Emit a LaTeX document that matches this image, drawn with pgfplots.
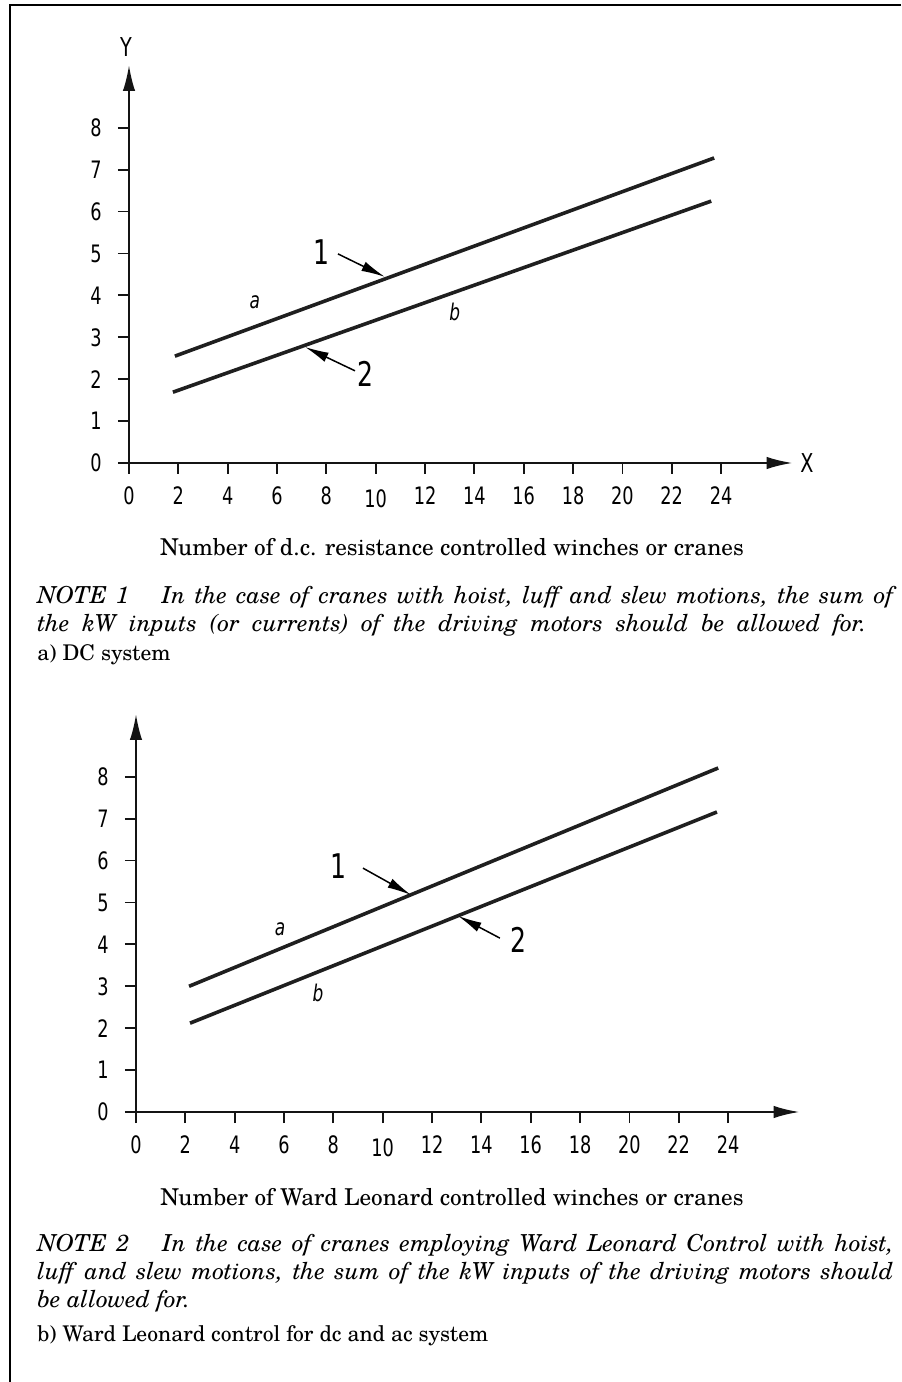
\documentclass[border=0pt]{standalone}
\usepackage{pgfplots}
\pgfplotsset{compat=1.18}
\usetikzlibrary{arrows.meta}
\usepackage{fontspec}
\setmainfont{TeX Gyre Schola}
\newfontfamily\iso[FakeStretch=0.82]{DejaVu Sans Condensed}
\pgfplotsset{
  isoaxis/.style={
    anchor=south west,
    axis lines=left,
    x=12.335pt, y=20.95pt,
    xmin=0, xmax=26.9, ymin=0, ymax=9.5,
    clip=false,
    axis line style={line width=1.1pt, black!92, -{Latex[length=13pt,width=6.2pt]}},
    xtick={0,2,...,24}, ytick={0,1,...,8},
    xticklabels={0,2,4,6,8,\raisebox{-1.5pt}[\height][0pt]{10},12,14,16,18,20,22,24},
    tick align=outside,
    major tick length=5.5pt,
    tick style={line width=0.9pt, black!92},
    /pgf/number format/assume math mode=true,
    ticklabel style={font=\iso\fontsize{12}{14}\selectfont, inner sep=0pt},
    xticklabel style={yshift=-6.5pt, text height=8.75pt, text depth=0pt},
    yticklabel style={xshift=-8pt},
  },
  dline/.style={line width=1.8pt, draw=black!88},
}
\tikzset{
  annot/.style={line width=0.75pt, -{Latex[length=12pt,width=5pt]}},
  big/.style={font=\iso\fontsize{17}{19}\selectfont, inner sep=0pt},
  itl/.style={font=\iso\itshape\fontsize{11.5}{13}\selectfont, inner sep=0pt},
  lab/.style={font=\iso\fontsize{13}{15}\selectfont, inner sep=0pt},
  captxt/.style={font=\fontsize{11.6}{14}\selectfont, inner sep=0pt, anchor=base},
  notetxt/.style={font=\fontsize{11.7}{14}\selectfont\itshape, inner sep=0pt, anchor=base west},
  subtxt/.style={font=\fontsize{10.8}{13}\selectfont, inner sep=0pt, anchor=base west},
}
\begin{document}
\begin{tikzpicture}[x=0.5pt,y=0.5pt]
\useasboundingbox (0,0) rectangle (901,1382);
\draw[line width=1pt] (901,1377) -- (9.6,1377);
\draw[line width=0.75pt] (10,1377.5) -- (10,0);

% ---- a) DC system
\begin{axis}[isoaxis, at={(64.5pt,459.5pt)}]
\addplot[dline] coordinates {(1.86,2.55) (23.72,7.28)};
\addplot[dline] coordinates {(1.78,1.69) (23.60,6.25)};
\draw[annot] (axis cs:8.47,4.99) -- (axis cs:10.38,4.44);
\draw[annot] (axis cs:9.16,2.20) -- (axis cs:7.13,2.77);
\node[big] at (axis cs:7.82,5.04) {1};
\node[big] at (axis cs:9.57,2.12) {2};
\node[itl] at (axis cs:5.1,3.84) {a};
\node[itl] at (axis cs:13.2,3.6) {b};
\node[lab] at (axis cs:-0.12,9.93) {Y};
\node[lab] at (axis cs:27.48,0) {X};
\end{axis}

\node[captxt] at (452,826) {Number of d.c. resistance controlled winches or cranes};
\node[notetxt] at (37,778) {\makebox[428pt][s]{NOTE 1\hspace{1.4em}In the case of cranes with hoist, luff and slew motions, the sum of}};
\node[notetxt] at (37,750) {\makebox[414.5pt][s]{the kW inputs (or currents) of the driving motors should be allowed for.}};
\node[subtxt] at (37,721) {a) DC system};

% ---- b) Ward Leonard
\begin{axis}[isoaxis, at={(68pt,135pt)}]
\addplot[dline] coordinates {(2.15,3.00) (23.60,8.21)};
\addplot[dline] coordinates {(2.19,2.12) (23.55,7.16)};
\draw[annot] (axis cs:9.2,5.82) -- (axis cs:11.15,5.18);
\draw[annot] (axis cs:14.75,4.15) -- (axis cs:13.05,4.68);
\node[big] at (axis cs:8.19,5.87) {1};
\node[big] at (axis cs:15.5,4.1) {2};
\node[itl] at (axis cs:5.84,4.37) {a};
\node[itl] at (axis cs:7.38,2.84) {b};
\end{axis}

\node[captxt] at (452,176) {Number of Ward Leonard controlled winches or cranes};
\node[notetxt] at (37,130) {\makebox[428pt][s]{NOTE 2\hspace{1.4em}In the case of cranes employing Ward Leonard Control with hoist,}};
\node[notetxt] at (37,102) {\makebox[428pt][s]{luff and slew motions, the sum of the kW inputs of the driving motors should}};
\node[notetxt] at (37,74) {be allowed for.};
\node[subtxt] at (37,40) {b) Ward Leonard control for dc and ac system};
\end{tikzpicture}
\end{document}
